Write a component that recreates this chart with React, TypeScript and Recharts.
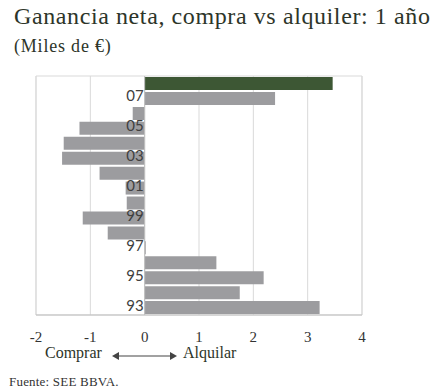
import { BarChart, Bar, Cell, XAxis, YAxis, CartesianGrid, ReferenceArea, ReferenceLine } from 'recharts';

// years from top (08) to bottom (93)
const years = ['08', '07', '06', '05', '04', '03', '02', '01', '00', '99', '98', '97', '96', '95', '94', '93'];
const gains = [3.46, 2.4, -0.22, -1.2, -1.49, -1.52, -0.83, -0.35, -0.33, -1.14, -0.68, 0.02, 1.32, 2.19, 1.75, 3.22];
const labeledYears = ['07', '05', '03', '01', '99', '97', '95', '93'];
const highlightYear = '08';
const xTicks = [-2, -1, 0, 1, 2, 3, 4];

const data = years.map((year, i) => ({ year, gain: gains[i] }));

const W = 440;
const H = 392;
const M = { top: 76, right: 78, bottom: 47, left: 35 };
const Y_W = 1;
const PLOT_L = M.left + Y_W;
const ZERO_X = PLOT_L + ((0 - xTicks[0]) / (xTicks[xTicks.length - 1] - xTicks[0])) * (W - PLOT_L - M.right);

const serif = '"Liberation Serif", "DejaVu Serif", serif';

const renderYearTick = (props: any) => {
  const { y, payload } = props;
  if (!labeledYears.includes(payload.value)) return <g />;
  return (
    <text x={ZERO_X - 1} y={y} dy={3} textAnchor="end" fontSize={15} fontFamily="Lato, 'Noto Sans', sans-serif" fill="#404040">
      {payload.value}
    </text>
  );
};

export default function App() {
  return (
    <div style={{ position: 'absolute', left: 0, top: 0, width: W, height: H, background: '#fff', fontFamily: serif, color: '#2d3529' }}>
      <div style={{ position: 'absolute', left: 14, top: 3, fontSize: 24, letterSpacing: 0.6, whiteSpace: 'nowrap' }}>
        Ganancia neta, compra vs alquiler: 1 año
      </div>
      <div style={{ position: 'absolute', left: 14, top: 36, fontSize: 18, letterSpacing: 0.8, whiteSpace: 'nowrap' }}>(Miles de €)</div>

      <div style={{ position: 'absolute', left: 0, top: 0 }}>
        <BarChart width={W} height={H} data={data} layout="vertical" margin={M} barCategoryGap={1}>
          <CartesianGrid horizontal={false} stroke="#d9d9d9" />
          <ReferenceArea x1={-2} x2={4} fill="none" stroke="#d9d9d9" />
          <XAxis
            type="number"
            domain={[-2, 4]}
            ticks={xTicks}
            height={30}
            axisLine={{ stroke: '#bfbfbf' }}
            tickLine={false}
            tickMargin={10}
            tick={{ fontSize: 15, fontFamily: serif, fill: '#333' }}
          />
          <YAxis type="category" dataKey="year" width={Y_W} axisLine={false} tickLine={false} interval={0} tick={renderYearTick} />
          <ReferenceLine x={0} stroke="#bfbfbf" />
          <Bar dataKey="gain" isAnimationActive={false}>
            {data.map((d) => (
              <Cell key={d.year} fill={d.year === highlightYear ? '#3d5734' : '#9c9c9f'} />
            ))}
          </Bar>
        </BarChart>
      </div>

      <div style={{ position: 'absolute', left: 45, top: 344, fontSize: 16, whiteSpace: 'nowrap' }}>Comprar</div>
      <svg style={{ position: 'absolute', left: 110, top: 349 }} width={70} height={14}>
        <line x1={5} y1={7} x2={64} y2={7} stroke="#444" strokeWidth={1.2} />
        <polygon points="2,7 9,3 9,11" fill="#444" />
        <polygon points="67,7 60,3 60,11" fill="#444" />
      </svg>
      <div style={{ position: 'absolute', left: 183, top: 344, fontSize: 16, whiteSpace: 'nowrap' }}>Alquilar</div>
      <div style={{ position: 'absolute', left: 9, top: 374, fontSize: 13, letterSpacing: 0.2, whiteSpace: 'nowrap', color: '#333' }}>
        Fuente: SEE BBVA.
      </div>
    </div>
  );
}
